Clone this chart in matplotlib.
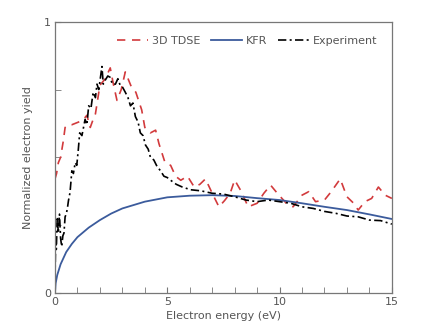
import numpy as np
import matplotlib.pyplot as plt
from matplotlib.ticker import MultipleLocator

# 3D TDSE
tdse_e = [0.0, 0.07, 0.15, 0.25, 0.37, 0.45, 0.6, 0.75, 0.9, 1.05, 1.27, 1.42, 1.57, 1.7, 1.8,
          2.0, 2.24, 2.46, 2.6, 2.76, 2.95, 3.13, 3.4, 3.6, 3.86, 4.0, 4.25, 4.48, 4.63, 4.9,
          5.15, 5.37, 5.6, 5.9, 6.2, 6.45, 6.7, 7.0, 7.3, 7.55, 7.8, 8.0, 8.3, 8.6, 9.0, 9.3,
          9.6, 9.9, 10.3, 10.6, 11.0, 11.3, 11.6, 12.0, 12.3, 12.7, 13.0, 13.3, 13.5, 13.8,
          14.1, 14.4, 14.7, 15.0]
tdse_y = [0.42, 0.44, 0.48, 0.50, 0.56, 0.61, 0.62, 0.62, 0.625, 0.63, 0.64, 0.655, 0.61, 0.64, 0.66,
          0.766, 0.79, 0.83, 0.77, 0.71, 0.75, 0.815, 0.76, 0.74, 0.675, 0.61, 0.59, 0.60, 0.55, 0.48,
          0.47, 0.43, 0.415, 0.43, 0.39, 0.40, 0.42, 0.367, 0.317, 0.34, 0.367, 0.416, 0.373, 0.317, 0.33, 0.367,
          0.397, 0.367, 0.33, 0.317, 0.36, 0.373, 0.336, 0.342, 0.373, 0.42, 0.354, 0.33, 0.305, 0.336,
          0.348, 0.39, 0.36, 0.348]

# KFR
kfr_e = [0.0, 0.03, 0.1, 0.25, 0.5, 0.75, 1.0, 1.5, 2.0, 2.5, 3.0, 4.0, 5.0, 6.0, 7.0, 8.0, 9.0,
         10.0, 11.0, 12.0, 13.0, 14.0, 15.0]
kfr_y = [0.0, 0.035, 0.065, 0.105, 0.15, 0.18, 0.205, 0.24, 0.268, 0.292, 0.311, 0.336, 0.352, 0.358,
         0.36, 0.357, 0.349, 0.342, 0.33, 0.317, 0.305, 0.289, 0.272]

# Experiment
exp_e = [0.0, 0.03, 0.06, 0.1, 0.15, 0.2, 0.25, 0.3, 0.35, 0.4, 0.45, 0.5, 0.55, 0.6, 0.67, 0.75,
         0.82, 0.9, 0.97, 1.04, 1.1, 1.2, 1.34, 1.42, 1.5, 1.6, 1.7, 1.8, 1.87, 1.95, 2.0, 2.09,
         2.15, 2.24, 2.35, 2.46, 2.55, 2.69, 2.8, 2.9, 3.0, 3.13, 3.25, 3.36, 3.47, 3.58, 3.7,
         3.8, 3.92, 4.03, 4.15, 4.25, 4.4, 4.55, 4.7, 4.85, 5.0, 5.15, 5.4, 5.67, 6.04, 6.5,
         7.0, 7.5, 8.0, 8.5, 9.0, 9.5, 10.0, 10.5, 11.0, 11.5, 12.0, 12.5, 13.0, 13.5, 14.0,
         14.5, 15.0]
exp_y = [0.05, 0.19, 0.16, 0.28, 0.22, 0.29, 0.2, 0.17, 0.21, 0.22, 0.28, 0.29, 0.31, 0.34, 0.37, 0.45,
         0.44, 0.48, 0.47, 0.53, 0.59, 0.58, 0.64, 0.62, 0.69, 0.68, 0.74, 0.72, 0.77, 0.75, 0.78, 0.835,
         0.77, 0.785, 0.8, 0.795, 0.77, 0.77, 0.79, 0.766, 0.76, 0.74, 0.72, 0.69, 0.70, 0.65, 0.63,
         0.59, 0.58, 0.545, 0.53, 0.50, 0.49, 0.465, 0.45, 0.43, 0.425, 0.415, 0.40, 0.39, 0.38, 0.376,
         0.367, 0.364, 0.354, 0.342, 0.336, 0.342, 0.336, 0.33, 0.317, 0.311, 0.30, 0.293, 0.283, 0.28, 0.268,
         0.266, 0.253]

plt.rcParams['font.family'] = ['DejaVu Sans']
txt = '#555555'
fs = 8

fig = plt.figure(figsize=(4.33, 3.36), dpi=100)
ax = fig.add_axes([0.127, 0.129, 0.778, 0.806])

ax.plot(tdse_e, tdse_y, color='#d23a3c', lw=1.2, dashes=(5, 4), label='3D TDSE')
ax.plot(kfr_e, kfr_y, color='#3b5b9c', lw=1.3, label='KFR')
ax.plot(exp_e, exp_y, color='black', lw=1.2, dashes=(5, 2, 1.2, 2), label='Experiment')

ax.set_xlim(0, 15)
ax.set_ylim(0, 1)
ax.set_xticks([0, 5, 10, 15])
ax.set_yticks([0, 1])
ax.xaxis.set_minor_locator(MultipleLocator(1))
ax.yaxis.set_minor_locator(MultipleLocator(0.25))
ax.tick_params(which='both', direction='in', colors='#777777', labelcolor=txt, labelsize=fs,
               top=False, right=False, length=4, pad=3)
for s in ax.spines.values():
    s.set_color('#777777')
    s.set_linewidth(0.9)

ax.set_xlabel('Electron energy (eV)', color=txt, fontsize=fs, labelpad=3)
ax.set_ylabel('Normalized electron yield', color=txt, fontsize=fs, labelpad=8)

ax.legend(loc='upper center', bbox_to_anchor=(0.57, 0.985), ncol=3, frameon=False, fontsize=fs,
          handlelength=2.8, columnspacing=1.0, handletextpad=0.3, labelcolor=txt)

fig.savefig('out.png', dpi=100)
